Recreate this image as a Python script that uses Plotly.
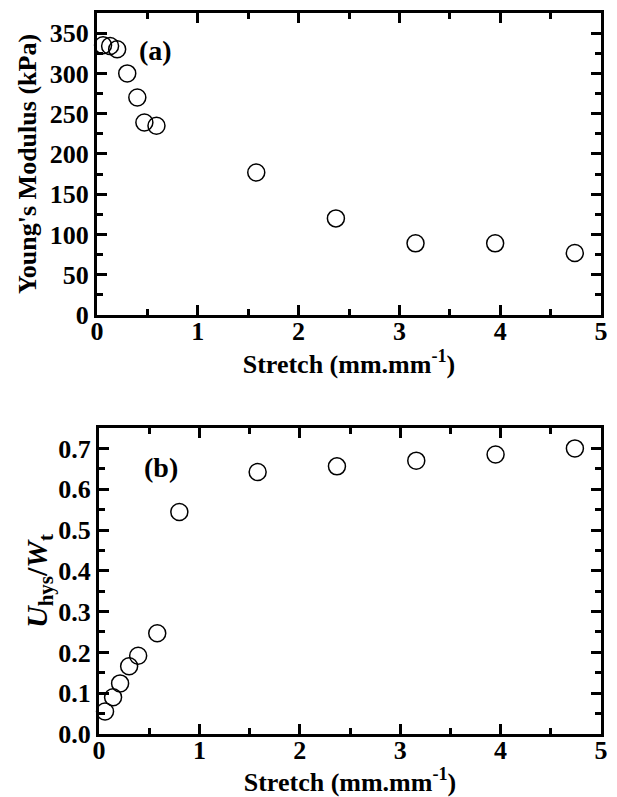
import plotly.graph_objects as go

# Panel (a): Young's modulus vs stretch
stretch_a = [0.06, 0.13, 0.20, 0.30, 0.40, 0.47, 0.59, 1.58, 2.37, 3.16, 3.95, 4.74]
modulus_a = [335, 334, 330, 300, 270, 239, 235, 177, 120, 89, 89, 77]

# Panel (b): Uhys/Wt vs stretch
stretch_b = [0.06, 0.14, 0.21, 0.30, 0.39, 0.58, 0.80, 1.58, 2.37, 3.16, 3.95, 4.74]
ratio_b = [0.055, 0.090, 0.124, 0.166, 0.192, 0.247, 0.544, 0.642, 0.656, 0.670, 0.685, 0.700]

FONT = "Liberation Serif"
marker = dict(symbol="circle-open", size=17, color="black", line=dict(width=1.5, color="black"))

fig = go.Figure()
fig.add_trace(go.Scatter(x=stretch_a, y=modulus_a, mode="markers", marker=marker,
                         xaxis="x", yaxis="y", showlegend=False, cliponaxis=False))
fig.add_trace(go.Scatter(x=stretch_b, y=ratio_b, mode="markers", marker=marker,
                         xaxis="x2", yaxis="y2", showlegend=False, cliponaxis=False))

tickfont = dict(family=FONT, size=26, color="black", weight="bold")
titlefont = dict(family=FONT, size=26, color="black", weight="bold")

def axis_common():
    return dict(showline=True, linewidth=3, linecolor="black", mirror="allticks",
                ticks="inside", ticklen=10, tickwidth=3, tickcolor="black",
                showgrid=False, zeroline=False, tickfont=tickfont,
                minor=dict(ticks="inside", ticklen=6, tickwidth=2.5, tickcolor="black"))

xa = axis_common()
xa.update(range=[0, 5], dtick=1, tick0=0, domain=[0, 1], anchor="y", ticklabelstandoff=-9,
          title=dict(text="Stretch (mm.mm<sup>-1</sup>)", font=titlefont, standoff=0))
xa["minor"]["dtick"] = 0.5
ya = axis_common()
ya.update(range=[0, 375], dtick=50, tick0=0, domain=[0.5811, 1.0], anchor="x",
          title=dict(text="Young's Modulus (kPa)", font=titlefont, standoff=6))
ya["minor"]["dtick"] = 25

xb = axis_common()
xb.update(range=[0, 5], dtick=1, tick0=0, domain=[0.004, 1], anchor="y2", ticklabelstandoff=-9,
          title=dict(text="Stretch (mm.mm<sup>-1</sup>)", font=titlefont, standoff=0))
xb["minor"]["dtick"] = 0.5
yb = axis_common()
yb.update(range=[0, 0.75], dtick=0.1, tick0=0, tickformat=".1f", domain=[0, 0.4244], anchor="x2",
          title=dict(text="<i>U</i><sub>hys</sub>/<i>W</i><sub>t</sub>",
                     font=dict(family=FONT, size=30, color="black", weight="bold"), standoff=2))
yb["minor"]["dtick"] = 0.05

fig.update_layout(
    width=617, height=797,
    margin=dict(l=97, r=9, t=13, b=63),
    paper_bgcolor="white", plot_bgcolor="white",
    xaxis=xa, yaxis=ya, xaxis2=xb, yaxis2=yb,
    annotations=[
        dict(text="(a)", x=0.577, y=328, xref="x", yref="y", showarrow=False,
             font=dict(family=FONT, size=28, color="black", weight="bold")),
        dict(text="(b)", x=0.62, y=0.652, xref="x2", yref="y2", showarrow=False,
             font=dict(family=FONT, size=28, color="black", weight="bold")),
    ],
)

fig.write_html("out.html", config={"displayModeBar": False},
               post_script="document.body.style.margin='0';")
